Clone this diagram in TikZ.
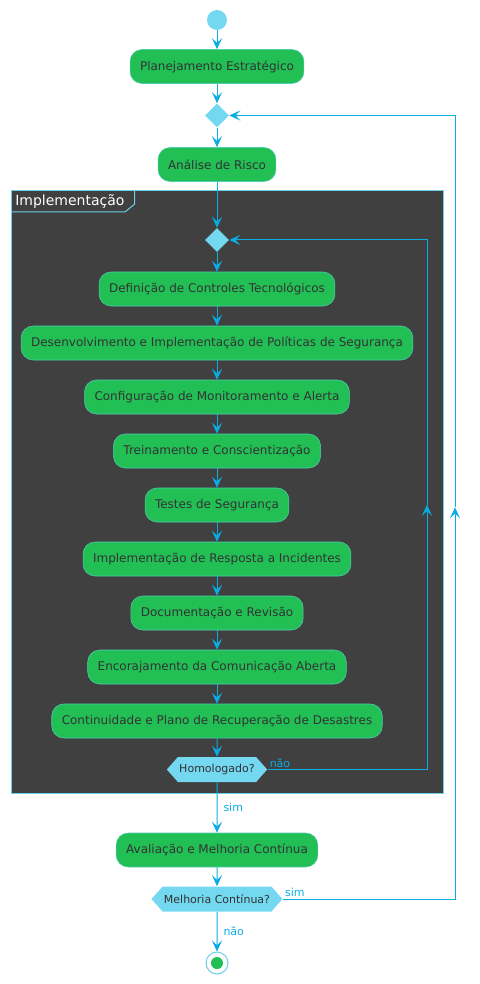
\documentclass[tikz,border=0pt]{standalone}
\usepackage{fontspec}
\setmainfont{DejaVu Sans}
\usepackage{tikz}
\usetikzlibrary{shapes.geometric, shapes.symbols, arrows.meta, positioning, calc}
\definecolor{actgreen}{RGB}{34, 191, 85}
\definecolor{actline}{RGB}{80, 205, 180}
\definecolor{acttext}{RGB}{51, 51, 51}
\definecolor{flowblue}{RGB}{10, 172, 228}
\definecolor{nodeblue}{RGB}{115, 216, 240}
\definecolor{framebg}{RGB}{64, 64, 64}
\definecolor{frameline}{RGB}{110, 206, 232}

\begin{document}
\begin{tikzpicture}[
    x=0.75pt, y=0.75pt,
    box/.style={draw=actline, rounded corners=9pt, fill=actgreen, minimum height=25.5pt, inner xsep=7.5pt, text=acttext, font=\fontsize{9}{11}\selectfont},
    merge/.style={diamond, fill=nodeblue, minimum size=18pt, inner sep=0pt},
    decision/.style={signal, signal to=west and east, signal pointer angle=97, fill=nodeblue, minimum height=18.75pt, inner xsep=1pt, text=acttext, font=\fontsize{8.25}{10}\selectfont},
    arrow/.style={draw=flowblue, line width=0.75pt, -{Stealth[length=8.25pt, width=7.5pt, inset=3.5pt]}},
    guard/.style={text=flowblue, font=\fontsize{8.25}{10}\selectfont, inner sep=1.5pt}
]
\useasboundingbox (-217,20) rectangle (262,-964);

% frame
\draw[draw=frameline, fill=framebg, line width=0.75pt] (-205,-171) rectangle (226,-773);
\draw[draw=frameline, line width=0.75pt] (-205,-192) -- (-92,-192) -- (-82.3,-184) -- (-82.3,-171);
\node[anchor=west, text=white, font=\fontsize{10.5}{12}\selectfont, inner sep=0pt] (frametitle) at (-202,-181.5) {Implementação};

\node[circle, fill=nodeblue, minimum size=15pt, inner sep=0pt] (start) at (0,0) {};
\node[box, below of=start, node distance=34.875pt] (plan) {Planejamento Estratégico};
\node[merge, below of=plan, node distance=36.75pt] (merge1) {};
\node[box, below of=merge1, node distance=36.75pt] (risk) {Análise de Risco};
\node[merge, below of=risk, node distance=56.625pt] (merge2) {};
\node[box, below of=merge2, node distance=36.75pt] (ctrl) {Definição de Controles Tecnológicos};
\node[box, below of=ctrl, node distance=40.5pt] (policy) {Desenvolvimento e Implementação de Políticas de Segurança};
\node[box, below of=policy, node distance=40.5pt] (monitor) {Configuração de Monitoramento e Alerta};
\node[box, below of=monitor, node distance=40.5pt] (training) {Treinamento e Conscientização};
\node[box, below of=training, node distance=40.5pt] (tests) {Testes de Segurança};
\node[box, below of=tests, node distance=40.5pt] (response) {Implementação de Resposta a Incidentes};
\node[box, below of=response, node distance=40.5pt] (docs) {Documentação e Revisão};
\node[box, below of=docs, node distance=40.5pt] (comms) {Encorajamento da Comunicação Aberta};
\node[box, below of=comms, node distance=40.5pt] (recovery) {Continuidade e Plano de Recuperação de Desastres};
\node[decision, below of=recovery, node distance=36.375pt] (approved) {Homologado?};
\node[box, below of=approved, node distance=60.375pt] (review) {Avaliação e Melhoria Contínua};
\node[decision, below of=review, node distance=36.75pt] (improve) {Melhoria Contínua?};
\node[circle, draw=frameline, fill=white, line width=0.75pt, minimum size=16.5pt, inner sep=0pt, below of=improve, node distance=48pt] (stop) {};
\node[circle, fill=actgreen, minimum size=9pt, inner sep=0pt] (stopdot) at (stop) {};

\draw[arrow] (start) -- (plan);
\draw[arrow] (plan) -- (merge1);
\draw[arrow] (merge1) -- (risk);
\draw[arrow] (risk) -- (merge2);
\draw[arrow] (merge2) -- (ctrl);
\draw[arrow] (ctrl) -- (policy);
\draw[arrow] (policy) -- (monitor);
\draw[arrow] (monitor) -- (training);
\draw[arrow] (training) -- (tests);
\draw[arrow] (tests) -- (response);
\draw[arrow] (response) -- (docs);
\draw[arrow] (docs) -- (comms);
\draw[arrow] (comms) -- (recovery);
\draw[arrow] (recovery) -- (approved);
\draw[arrow] (approved) -- node[guard, right, xshift=3pt] {sim} (review);
\draw[arrow] (review) -- (improve);
\draw[arrow] (improve) -- node[guard, right, xshift=3pt] {não} (stop);

% loops back
\coordinate (innerx) at (210,0);
\coordinate (outerx) at (238,0);
\coordinate (innermid) at ($(approved.east -| innerx)!0.5!(merge2.east -| innerx)$);
\coordinate (outermid) at ($(improve.east -| outerx)!0.5!(merge1.east -| outerx)$);
\draw[arrow] (approved.east) -- (approved.east -| innerx) -- (innermid);
\draw[arrow] (innermid) -- (merge2.east -| innerx) -- (merge2.east);
\draw[arrow] (improve.east) -- (improve.east -| outerx) -- (outermid);
\draw[arrow] (outermid) -- (merge1.east -| outerx) -- (merge1.east);
\node[guard, anchor=south west] (nolabel) at (approved.east) {não};
\node[guard, anchor=south west] (yeslabel) at (improve.east) {sim};
\end{tikzpicture}
\end{document}
